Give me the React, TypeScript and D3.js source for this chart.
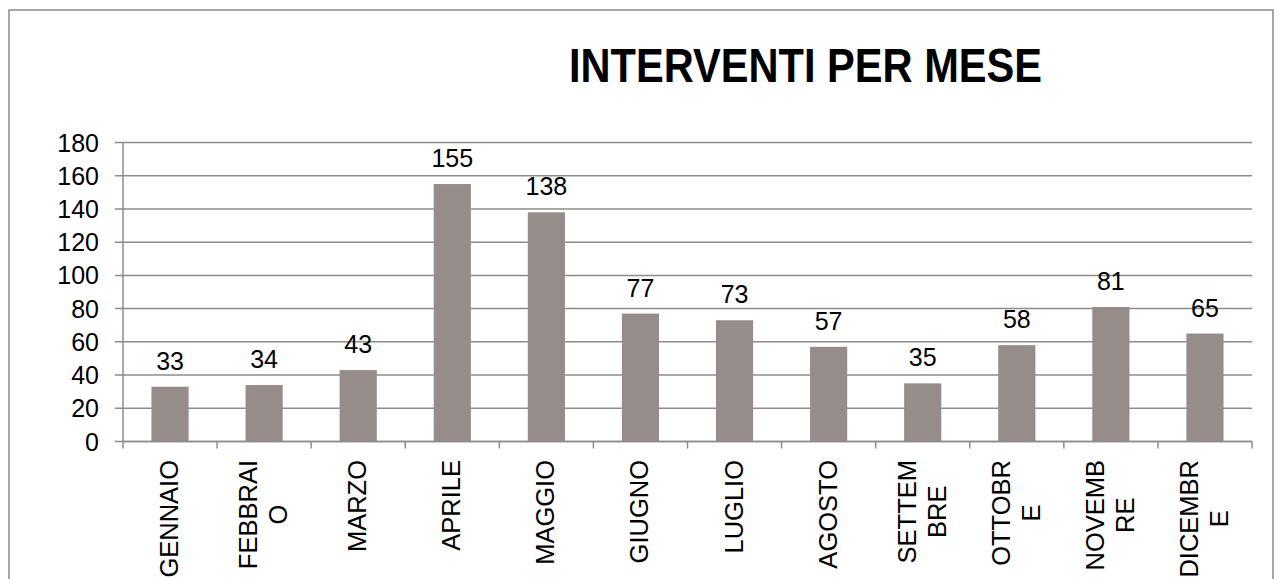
import React, { useEffect, useRef } from "react";
import * as d3 from "d3";

const categories = [
  "GENNAIO", "FEBBRAIO", "MARZO", "APRILE", "MAGGIO", "GIUGNO",
  "LUGLIO", "AGOSTO", "SETTEMBRE", "OTTOBRE", "NOVEMBRE", "DICEMBRE",
];
const tickLabelLines = [
  ["GENNAIO"], ["FEBBRAI", "O"], ["MARZO"], ["APRILE"], ["MAGGIO"], ["GIUGNO"],
  ["LUGLIO"], ["AGOSTO"], ["SETTEM", "BRE"], ["OTTOBR", "E"], ["NOVEMB", "RE"], ["DICEMBR", "E"],
];
const values = [33, 34, 43, 155, 138, 77, 73, 57, 35, 58, 81, 65];
const yTicks = [0, 20, 40, 60, 80, 100, 120, 140, 160, 180];
const title = "INTERVENTI PER MESE";

const W = 1279;
const H = 579;
const FONT = "'Liberation Sans', Arial, sans-serif";

export default function App() {
  const ref = useRef<SVGSVGElement | null>(null);

  useEffect(() => {
    document.body.style.margin = "0";
    const svg = d3.select(ref.current);
    svg.selectAll("*").remove();

    const left = 123, right = 1252, top = 142.5, bottom = 441.5;
    const x = d3.scaleBand<string>().domain(categories).range([left, right]).padding(0);
    const y = d3.scaleLinear().domain([0, 180]).range([bottom, top]);
    const step = x.step();
    const bw = step * 0.395;

    svg.append("rect")
      .attr("x", 9).attr("y", 10).attr("width", 1264).attr("height", 620)
      .attr("fill", "white").attr("stroke", "#8a8a8a").attr("stroke-width", 1.5);

    svg.append("text")
      .attr("x", 569).attr("y", 81.5)
      .attr("font-family", FONT).attr("font-weight", "bold").attr("font-size", 47.5)
      .attr("textLength", 473).attr("lengthAdjust", "spacingAndGlyphs")
      .attr("fill", "#000").text(title);

    const grid = svg.append("g");
    yTicks.forEach((t) => {
      grid.append("line")
        .attr("x1", left - 8).attr("x2", right)
        .attr("y1", y(t)).attr("y2", y(t))
        .attr("stroke", "#8c8c8c").attr("stroke-width", 1.5);
      grid.append("text")
        .attr("x", 99).attr("y", y(t) + 9)
        .attr("text-anchor", "end")
        .attr("font-family", FONT).attr("font-size", 25).attr("fill", "#000")
        .text(String(t));
    });

    svg.append("line")
      .attr("x1", left).attr("x2", left).attr("y1", top).attr("y2", bottom)
      .attr("stroke", "#8c8c8c").attr("stroke-width", 1.5);

    svg.append("g").selectAll("rect").data(values).join("rect")
      .attr("x", (_d, i) => (x(categories[i]) as number) + (step - bw) / 2)
      .attr("y", (d) => y(d))
      .attr("width", bw)
      .attr("height", (d) => bottom - y(d))
      .attr("fill", "#968d8b");

    svg.append("g").selectAll("text").data(values).join("text")
      .attr("x", (_d, i) => (x(categories[i]) as number) + step / 2)
      .attr("y", (d) => y(d) - 17)
      .attr("text-anchor", "middle")
      .attr("font-family", FONT).attr("font-size", 25).attr("fill", "#000")
      .text((d) => String(d));

    svg.append("line")
      .attr("x1", left).attr("x2", right).attr("y1", bottom).attr("y2", bottom)
      .attr("stroke", "#8c8c8c").attr("stroke-width", 1.5);
    for (let i = 0; i <= categories.length; i++) {
      const tx = left + i * step;
      svg.append("line")
        .attr("x1", tx).attr("x2", tx).attr("y1", bottom).attr("y2", bottom + 7)
        .attr("stroke", "#8c8c8c").attr("stroke-width", 1.5);
    }

    const labelTop = 460;
    const lineGap = 30;
    categories.forEach((c, i) => {
      const lines = tickLabelLines[i];
      const cx = (x(c) as number) + step / 2;
      const g = svg.append("g");
      const texts = lines.map((ln) =>
        g.append("text")
          .attr("font-family", FONT).attr("font-size", 25.5).attr("fill", "#000")
          .attr("text-anchor", "middle")
          .text(ln)
      );
      const maxLen = Math.max(...texts.map((t) => (t.node() as SVGTextElement).getComputedTextLength()));
      const cy = labelTop + maxLen / 2;
      const n = lines.length;
      texts.forEach((t, j) => {
        const bx = cx - ((n - 1) * lineGap) / 2 + j * lineGap + 8;
        t.attr("transform", `translate(${bx},${cy}) rotate(-90)`);
      });
    });
  }, []);

  return (
    <svg
      ref={ref}
      width={W}
      height={H}
      style={{ position: "absolute", left: 0, top: 0, display: "block" }}
    />
  );
}
